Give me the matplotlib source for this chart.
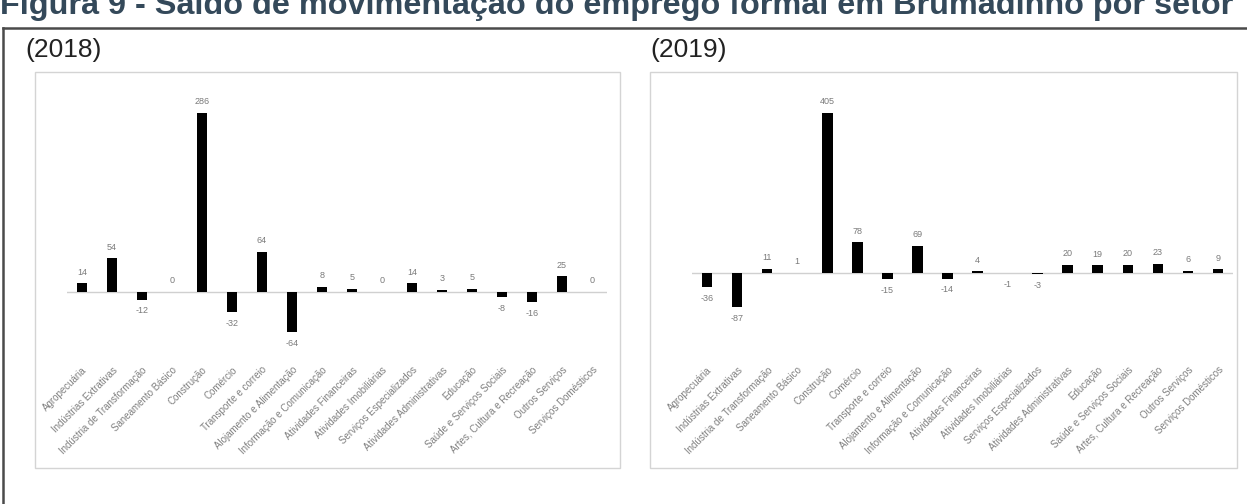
import matplotlib.pyplot as plt
import matplotlib.patches as mpatches
from matplotlib.lines import Line2D
import numpy as np

plt.rcParams['font.family'] = ['Liberation Sans', 'DejaVu Sans']

setores = ['Agropecuária', 'Indústrias Extrativas', 'Indústria de Transformação',
           'Saneamento Básico', 'Construção', 'Comércio', 'Transporte e correio',
           'Alojamento e Alimentação', 'Informação e Comunicação',
           'Atividades Financeiras', 'Atividades Imobiliárias',
           'Serviços Especializados', 'Atividades Administrativas', 'Educação',
           'Saúde e Serviços Sociais', 'Artes, Cultura e Recreação',
           'Outros Serviços', 'Serviços Domésticos']

saldo_2018 = [14, 54, -12, 0, 286, -32, 64, -64, 8, 5, 0, 14, 3, 5, -8, -16, 25, 0]
saldo_2019 = [-36, -87, 11, 1, 405, 78, -15, 69, -14, 4, -1, -3, 20, 19, 20, 23, 6, 9]

W, H = 1247, 504
fig = plt.figure(figsize=(W / 100, H / 100), dpi=100)
fig.patch.set_facecolor('white')


def px(x0, y0, x1, y1):
    # pixel box (top-left origin) -> figure fraction rect
    return [x0 / W, 1 - y1 / H, (x1 - x0) / W, (y1 - y0) / H]


# title, its upper part runs off the top edge
fig.text(0.0, 1 - 14 / H, 'Figura 9 - Saldo de movimentação do emprego formal em Brumadinho por setor',
         fontsize=23.3, fontweight='bold', color='#34495a', ha='left', va='baseline')

# outer frame
fig.add_artist(Line2D([3 / W, 1], [1 - 28 / H, 1 - 28 / H], color='#4a4a4a', lw=1.8))
fig.add_artist(Line2D([3 / W, 3 / W], [1 - 28 / H, 0], color='#4a4a4a', lw=1.8))

fig.text(25 / W, 1 - 50 / H, '(2018)', fontsize=19, color='#222222', va='center')
fig.text(650 / W, 1 - 50 / H, '(2019)', fontsize=19, color='#222222', va='center')

# light panel borders
for x0, x1 in [(35, 620), (650, 1237)]:
    r = mpatches.Rectangle((x0 / W, 1 - 468 / H), (x1 - x0) / W, (468 - 72) / H,
                           transform=fig.transFigure, fill=False, ec='#d4d4d4', lw=1)
    fig.add_artist(r)


def plot_saldo(rect, valores, ylim):
    ax = fig.add_axes(rect)
    x = np.arange(len(valores))
    ax.bar(x, valores, width=0.35, color='black', zorder=3)
    ax.axhline(0, color='#d0d0d0', lw=1, zorder=2)
    ax.set_xlim(-0.5, len(valores) - 0.5)
    ax.set_ylim(*ylim)
    off = (ylim[1] - ylim[0]) * 0.025
    for xi, v in zip(x, valores):
        if v >= 0:
            ax.text(xi, v + off, str(v), ha='center', va='bottom', fontsize=6.5, color='#7a7a7a')
        else:
            ax.text(xi, v - off, str(v), ha='center', va='top', fontsize=6.5, color='#7a7a7a')
    ax.set_xticks(x)
    ax.set_xticklabels(setores, rotation=45, ha='right', rotation_mode='anchor',
                       fontsize=7, color='#808080')
    ax.tick_params(axis='x', length=0, pad=2)
    ax.set_yticks([])
    for s in ax.spines.values():
        s.set_visible(False)
    ax.patch.set_alpha(0)
    return ax


plot_saldo(px(67, 95, 607, 362), saldo_2018, (-(362 - 292) / 0.626, (292 - 95) / 0.626))
plot_saldo(px(692, 95, 1233, 362), saldo_2019, (-(362 - 273) / 0.395, (273 - 95) / 0.395))

fig.savefig('out.png', dpi=100)
